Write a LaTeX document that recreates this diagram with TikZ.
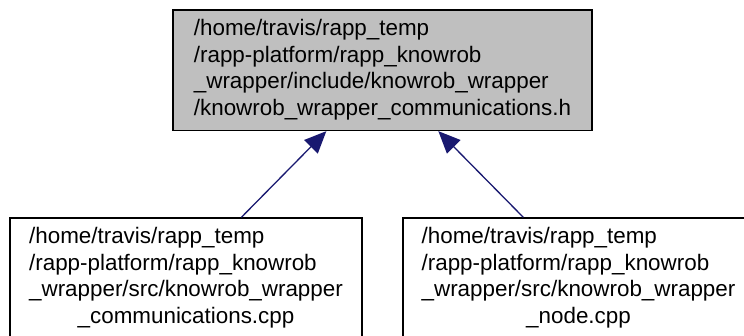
\documentclass[tikz,border=0pt]{standalone}
\usepackage{fontspec}
\setmainfont{Liberation Sans}
\usetikzlibrary{arrows.meta,calc}
\definecolor{edgeblue}{HTML}{191970}
\definecolor{boxgray}{HTML}{BFBFBF}
\tikzset{
  filebox/.style={draw=black, line width=1.3pt, rectangle, inner sep=0pt,
    minimum height=120.5pt, font=\fontsize{22.4}{26.7}\selectfont},
  dep/.style={draw=edgeblue, line width=1.3pt, -{Triangle[length=22pt,width=19pt,fill=edgeblue]}}
}
\newcommand{\fourlines}[4]{\renewcommand{\arraystretch}{1}\begin{tabular}{@{}l@{}}#1\\#2\\#3\\\multicolumn{1}{@{}c@{}}{#4}\end{tabular}}
\begin{document}
\begin{tikzpicture}[x=1pt,y=1pt]
\useasboundingbox[clip] (0,0) rectangle (744,-335);
\node[filebox, fill=boxgray, minimum width=419pt] (top) at (382.5,-70.25)
  {\fourlines{/home/travis/rapp\_temp}{/rapp-platform/rapp\_knowrob}{\_wrapper/include/knowrob\_wrapper}{/knowrob\_wrapper\_communications.h}};
\node[filebox, fill=white, minimum width=352pt] (bl) at (186,-278.25)
  {\fourlines{/home/travis/rapp\_temp}{/rapp-platform/rapp\_knowrob}{\_wrapper/src/knowrob\_wrapper}{\_communications.cpp}};
\node[filebox, fill=white, minimum width=351pt] (br) at (578.5,-278.25)
  {\fourlines{/home/travis/rapp\_temp}{/rapp-platform/rapp\_knowrob}{\_wrapper/src/knowrob\_wrapper}{\_node.cpp}};
\draw[dep] ($(bl.north west)+(232,0)$) -- ($(top.south west)+(154,0)$);
\draw[dep] ($(br.north west)+(121,0)$) -- ($(top.south west)+(266,0)$);
\end{tikzpicture}
\end{document}
